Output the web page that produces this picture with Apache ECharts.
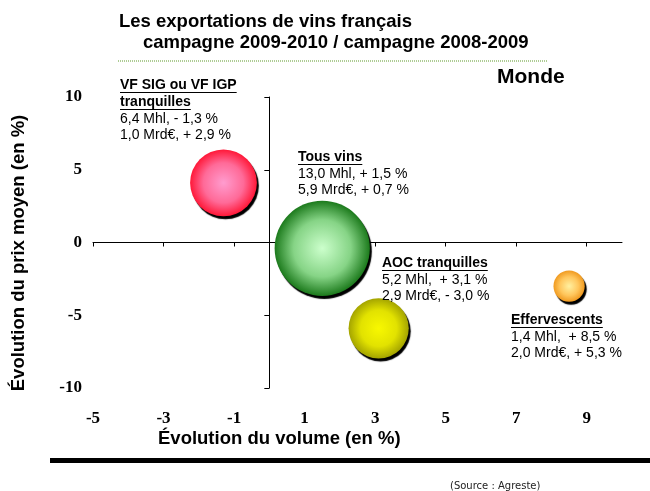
<!DOCTYPE html>
<html>
<head>
<meta charset="utf-8">
<script src="https://cdn.jsdelivr.net/npm/echarts@6/dist/echarts.min.js"></script>
<style>
  html, body { margin: 0; padding: 0; background: #fff; }
  #main { width: 650px; height: 491px; }
</style>
</head>
<body>
<div id="main"></div>
<script>
// data
var categories = ['VF SIG ou VF IGP\ntranquilles', 'Tous vins', 'AOC tranquilles', 'Effervescents'];
var volumeChange = [-1.3, 1.5, 3.1, 8.5];   // x : évolution du volume (%)
var priceChange = [4.1, -0.4, -5.9, -3.0];  // y : évolution du prix moyen (%)
var volumeMhl = [6.4, 13.0, 5.2, 1.4];      // bubble size
var valueMrd = [1.0, 5.9, 2.9, 2.0];
var valueChange = [2.9, 0.7, -3.0, 5.3];
var xTicks = [-5, -3, -1, 1, 3, 5, 7, 9];
var yTicks = [-10, -5, 0, 5, 10];

var bubbleColors = [
  ['#ff9ccf', '#ff6a98', '#ff1838'],
  ['#ccffcc', '#86d486', '#1c7a1c'],
  ['#f8f800', '#e2e200', '#a4a400'],
  ['#fff0a0', '#ffc65c', '#f09a20']
];
// label block top-left anchors (text positions only)
var labelPos = [[120, 85], [298, 157], [382, 263], [511, 320]];

var chart = echarts.init(document.getElementById('main'));

function fr(v) { return v.toFixed(1).replace('.', ','); }
function sgn(v) { return (v < 0 ? '- ' : '+ ') + fr(Math.abs(v)) + ' %'; }

var ctx = document.createElement('canvas').getContext('2d');
function textWidth(t, font) { ctx.font = font; return ctx.measureText(t).width; }

var sansB = 'bold 14px "Liberation Sans", Arial, sans-serif';
var sans = '14px "Liberation Sans", Arial, sans-serif';
var big = 'bold 18.5px "Liberation Sans", Arial, sans-serif';

var graphics = [];
function addText(t, x, y, font, extra) {
  var st = { text: t, x: x, y: y, font: font, fill: '#000', textAlign: 'left', align: 'left',
             textVerticalAlign: 'middle', verticalAlign: 'middle' };
  for (var k in extra) st[k] = extra[k];
  graphics.push({ type: 'text', z: 100, style: st });
}

categories.forEach(function (c, i) {
  var x = labelPos[i][0], y = labelPos[i][1];
  var heads = c.split('\n');
  heads.forEach(function (h) {
    addText(h, x, y, sansB);
    graphics.push({ type: 'line', z: 100, shape: { x1: x, y1: y + 7.5, x2: x + textWidth(h, sansB), y2: y + 7.5 },
                    style: { stroke: '#000', lineWidth: 1 } });
    y += 17;
  });
  var pad = (i >= 2) ? ',  ' : ', ';
  addText(fr(volumeMhl[i]) + ' Mhl' + pad + sgn(volumeChange[i]), x, y, sans);
  y += 16.5;
  addText(fr(valueMrd[i]) + ' Mrd€, ' + sgn(valueChange[i]), x, y, sans);
});

addText('Les exportations de vins français', 119, 22, big);
addText('campagne 2009-2010 / campagne 2008-2009', 143, 43, big);
addText('Monde', 497, 77, 'bold 21px "Liberation Sans", Arial, sans-serif');
addText('Évolution du volume (en %)', 158, 439, big);
graphics.push({ type: 'text', z: 100, x: 19, y: 253, rotation: Math.PI / 2,
  style: { text: 'Évolution du prix moyen (en %)', x: 0, y: 0, font: big,
           fill: '#000', textAlign: 'center', align: 'center', textVerticalAlign: 'middle', verticalAlign: 'middle' } });
addText('(Source : Agreste)', 450, 486, '10px "DejaVu Sans", sans-serif', { fill: '#222' });

graphics.push({ type: 'line', shape: { x1: 118, y1: 61, x2: 548, y2: 61 },
  style: { stroke: '#5e9a2a', lineWidth: 1, lineDash: [1, 1] } });
graphics.push({ type: 'rect', shape: { x: 50, y: 458, width: 600, height: 5 }, style: { fill: '#000' } });

var tickFont = { fontFamily: '"Liberation Serif", "Times New Roman", serif', fontWeight: 'bold', fontSize: 17, color: '#000' };

chart.setOption({
  animation: false,
  grid: { left: 93, right: 28, top: 97, bottom: 103, outerBoundsMode: 'none' },
  xAxis: [
    { type: 'value', min: -5, max: 10, position: 'bottom',
      axisLine: { show: false, onZero: false }, axisTick: { show: false }, splitLine: { show: false },
      axisLabel: Object.assign({ customValues: xTicks, margin: 22 }, tickFont) },
    { type: 'value', min: -5, max: 10, position: 'bottom',
      axisLine: { show: true, onZero: true, onZeroAxisIndex: 1, lineStyle: { color: '#000', width: 1 } },
      axisTick: { show: true, customValues: xTicks, length: 4, lineStyle: { color: '#000' } },
      axisLabel: { show: false }, splitLine: { show: false } }
  ],
  yAxis: [
    { type: 'value', min: -10, max: 10, interval: 5, position: 'left',
      axisLine: { show: false, onZero: false }, axisTick: { show: false }, splitLine: { show: false },
      axisLabel: Object.assign({ customValues: yTicks, margin: 11 }, tickFont) },
    { type: 'value', min: -10, max: 10, interval: 5, position: 'left',
      axisLine: { show: true, onZero: true, onZeroAxisIndex: 1, lineStyle: { color: '#000', width: 1 } },
      axisTick: { show: true, length: 5, lineStyle: { color: '#000' } },
      axisLabel: { show: false }, splitLine: { show: false } }
  ],
  series: [{
    type: 'scatter',
    data: volumeChange.map(function (v, i) {
      var c = bubbleColors[i];
      return {
        name: categories[i],
        value: [v, priceChange[i], volumeMhl[i]],
        itemStyle: {
          color: { type: 'radial', x: 0.5, y: 0.5, r: 0.5,
                   colorStops: [{ offset: 0, color: c[0] }, { offset: 0.6, color: c[1] }, { offset: 1, color: c[2] }] }
        }
      };
    }),
    symbolSize: function (val) { return 26.4 * Math.sqrt(val[2]); },
    itemStyle: { opacity: 1, shadowColor: '#000', shadowBlur: 1, shadowOffsetX: 2, shadowOffsetY: 3 },
    emphasis: { disabled: true }
  }],
  graphic: graphics
});
</script>
</body>
</html>
